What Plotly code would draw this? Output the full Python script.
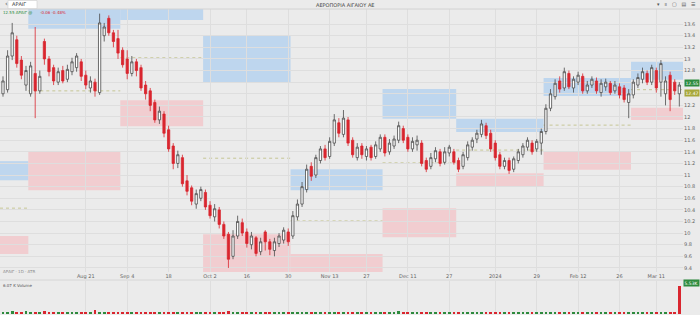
import plotly.graph_objects as go

# ---------------- data ----------------
idx = list(range(148))
opens = [12.40,12.47,13.05,13.33,12.98,12.55,12.40,12.75,12.45,13.30,13.00,12.85,12.60,12.80,12.65,
         12.78,12.85,12.95,12.72,12.50,12.60,12.42,13.40,13.70,13.45,13.35,13.15,13.00,12.75,12.95,
         12.85,12.55,12.45,12.25,11.95,12.05,11.78,11.50,11.20,11.30,10.90,10.78,10.50,10.60,10.70,
         10.48,10.28,10.40,10.15,9.98,9.60,9.95,10.18,10.02,9.80,9.92,9.68,10.02,9.85,9.70,
         9.82,9.88,10.02,9.95,10.28,10.50,10.75,11.15,11.00,11.25,11.45,11.32,11.55,11.90,11.70,
         11.95,11.60,11.30,11.50,11.32,11.48,11.32,11.45,11.65,11.40,11.50,11.60,11.80,11.65,11.45,
         11.52,11.55,11.25,11.15,11.28,11.40,11.22,11.38,11.40,11.25,11.15,11.30,11.48,11.62,11.70,
         11.85,11.72,11.55,11.35,11.15,11.25,11.10,11.25,11.35,11.48,11.55,11.45,11.55,11.75,12.15,
         12.35,12.62,12.50,12.75,12.50,12.60,12.70,12.45,12.55,12.62,12.42,12.52,12.58,12.45,12.52,
         12.50,12.25,12.38,12.55,12.65,12.75,12.60,12.80,12.60,12.40,12.72,12.60,12.40]
highs = [12.70,13.15,13.62,13.40,13.05,12.88,12.95,13.55,12.80,13.35,13.05,12.90,12.85,12.88,12.90,
         13.02,13.10,13.00,12.80,12.70,12.66,13.78,13.62,13.75,13.50,13.50,13.20,13.15,13.05,13.00,
         12.90,12.62,12.50,12.30,12.18,12.10,11.85,11.55,11.42,11.35,11.00,10.82,10.75,10.80,10.75,
         10.55,10.50,10.45,10.20,10.02,10.05,10.30,10.25,10.08,10.02,9.95,9.92,10.05,9.90,9.92,
         10.00,10.10,10.08,10.38,10.58,10.88,11.18,11.22,11.35,11.50,11.52,11.65,12.05,11.98,12.12,
         12.00,11.65,11.55,11.55,11.50,11.52,11.58,11.70,11.70,11.62,11.68,11.92,11.85,11.70,11.65,
         11.68,11.60,11.30,11.38,11.48,11.45,11.48,11.52,11.45,11.30,11.40,11.58,11.65,11.78,11.95,
         11.90,11.78,11.60,11.40,11.30,11.30,11.32,11.45,11.55,11.65,11.60,11.62,11.80,12.22,12.48,
         12.65,12.70,12.85,12.80,12.70,12.78,12.75,12.62,12.70,12.68,12.65,12.66,12.62,12.62,12.58,
         12.55,12.48,12.65,12.75,12.85,12.80,12.90,12.85,12.98,12.70,12.78,12.65,12.60]
lows = [12.35,12.42,12.98,12.85,12.65,12.45,12.35,11.98,12.40,12.90,12.70,12.55,12.55,12.58,12.60,
        12.72,12.78,12.62,12.48,12.42,12.35,12.38,13.30,13.40,13.20,13.00,12.85,12.65,12.70,12.70,
        12.45,12.30,12.10,11.90,11.88,11.65,11.40,11.10,11.12,10.80,10.65,10.48,10.42,10.55,10.40,
        10.25,10.20,10.08,9.90,9.40,9.55,9.90,9.95,9.75,9.72,9.60,9.62,9.70,9.62,9.60,
        9.76,9.82,9.78,9.90,10.22,10.45,10.70,10.90,10.95,11.20,11.25,11.28,11.50,11.65,11.65,
        11.50,11.30,11.25,11.28,11.25,11.25,11.28,11.40,11.32,11.35,11.45,11.55,11.55,11.40,11.40,
        11.42,11.15,11.05,11.10,11.22,11.15,11.18,11.32,11.18,11.05,11.10,11.25,11.42,11.55,11.65,
        11.62,11.40,11.25,11.10,11.10,11.02,11.05,11.20,11.30,11.42,11.35,11.40,11.35,11.70,12.10,
        12.30,12.42,12.45,12.48,12.42,12.55,12.40,12.40,12.50,12.40,12.35,12.45,12.38,12.40,12.32,
        12.25,11.98,12.32,12.50,12.58,12.55,12.55,12.42,12.35,12.20,12.10,12.38,12.18]
closes = [12.62,13.05,13.45,12.92,12.72,12.80,12.88,12.45,12.70,13.00,12.78,12.62,12.78,12.62,12.82,
          12.95,13.05,12.70,12.55,12.62,12.45,13.62,13.55,13.45,13.30,13.10,12.90,12.75,12.95,12.80,
          12.50,12.40,12.20,11.95,12.10,11.72,11.45,11.20,11.35,10.85,10.72,10.55,10.68,10.75,10.45,
          10.30,10.42,10.15,9.95,9.55,9.95,10.20,10.00,9.82,9.95,9.65,9.85,9.85,9.72,9.85,
          9.95,10.05,9.85,10.30,10.50,10.80,11.10,10.98,11.30,11.45,11.30,11.58,11.95,11.72,11.98,
          11.55,11.35,11.48,11.35,11.45,11.30,11.52,11.65,11.38,11.55,11.62,11.85,11.60,11.45,11.58,
          11.60,11.20,11.10,11.30,11.42,11.20,11.40,11.48,11.22,11.10,11.35,11.52,11.60,11.72,11.88,
          11.68,11.45,11.30,11.15,11.25,11.08,11.28,11.40,11.50,11.60,11.40,11.58,11.75,12.15,12.40,
          12.58,12.48,12.78,12.52,12.65,12.72,12.45,12.55,12.65,12.45,12.58,12.60,12.42,12.55,12.38,
          12.30,12.40,12.60,12.68,12.78,12.60,12.85,12.50,12.92,12.62,12.30,12.45,12.55]
volumes = [3,4,5,3,4,5,3,4,4,5,3,3,4,3,3,
           4,3,2,2,3,8,3,4,3,2,2,2,3,2,2,
           3,2,3,3,4,3,4,3,2,3,2,2,4,3,3,
           2,3,4,3,5,4,3,2,2,2,3,2,3,2,2,
           3,2,3,4,3,2,3,2,2,2,3,3,2,2,2,
           2,3,2,2,3,2,3,2,4,4,3,5,4,2,2,
           2,2,3,2,3,4,2,2,2,2,2,2,2,2,2,
           2,2,2,2,2,3,2,2,3,2,2,4,3,2,2,
           3,2,2,3,2,2,3,2,2,3,2,2,2,3,2,
           2,3,2,2,4,3,2,2,3,2,4,3,53]

# monthly support / resistance zones (x in bar index, y in price)
zone_x0 = [-0.65, 5.5, 25.5, 43.5, 62.5, 82.5, 98.5, 117.5, 136.5]
zone_x1 = [5.5, 25.5, 43.5, 62.5, 82.5, 98.5, 117.5, 136.5, 147.8]
blue_top = [11.24, 13.90, 13.90, 13.41, 11.10, 12.48, 11.97, 12.67, 12.95]
blue_bot = [10.91, 13.52, 13.67, 12.59, 10.74, 11.97, 11.74, 12.36, 12.64]
pink_top = [9.95, 11.40, 12.29, 9.98, 9.64, 10.43, 11.03, 11.40, 12.16]
pink_bot = [9.64, 10.74, 11.84, 9.20, 9.20, 9.93, 10.81, 11.09, 11.95]
pivot = [10.43, 12.45, 13.02, 11.29, 10.21, 11.21, 11.43, 11.86, 12.47]

tick_idx = [18, 27, 36, 45, 53, 62, 71, 79, 88, 97, 107, 116, 125, 134, 142]
tick_txt = ["Aug 21", "Sep 4", "18", "Oct 2", "16", "30", "Nov 13", "27", "Dec 11", "27",
            "2024", "29", "Feb 12", "26", "Mar 11"]
price_ticks = [9.4, 9.6, 9.8, 10, 10.2, 10.4, 10.6, 10.8, 11, 11.2, 11.4, 11.6, 11.8, 12,
               12.2, 12.4, 12.6, 12.8, 13, 13.2, 13.4, 13.6]
# labels hidden behind the last-price tags
price_labels = ["9.4", "9.6", "9.8", "10", "10.2", "10.4", "10.6", "10.8", "11", "11.2", "11.4",
                "11.6", "11.8", "12", "12.2", "", "", "12.8", "13", "13.2", "13.4", "13.6"]

ticker = "ΑΡΑΙΓ"
title = "ΑΕΡΟΠΟΡΙΑ ΑΙΓΑΙΟΥ ΑΕ"

# ---------------- figure ----------------
BG = "#ebebeb"
GRID = "#dedede"
RED = "#d9262f"
GREEN = "#2e8b3e"
FONT = "DejaVu Sans"

def py(px):
    return 1 - px / 315.0

fig = go.Figure()

fig.add_trace(go.Candlestick(
    x=idx, open=opens, high=highs, low=lows, close=closes,
    increasing=dict(fillcolor="#ffffff", line=dict(color="#4a4a4a", width=0.8)),
    decreasing=dict(fillcolor=RED, line=dict(color=RED, width=0.8)),
    whiskerwidth=0, showlegend=False, xaxis="x", yaxis="y"))

vol_colors = [GREEN if c >= o else RED for o, c in zip(opens, closes)]
vol_colors[-1] = RED
fig.add_trace(go.Bar(x=idx, y=volumes, marker=dict(color=vol_colors, line=dict(width=0)),
                     width=0.6, showlegend=False, xaxis="x2", yaxis="y2"))

shapes = []
for x0, x1, bt, bb, pt, pb, pv in zip(zone_x0, zone_x1, blue_top, blue_bot, pink_top, pink_bot, pivot):
    shapes.append(dict(type="rect", xref="x", yref="y", x0=x0, x1=x1, y0=bb, y1=bt,
                       fillcolor="rgba(160,200,240,0.6)", line=dict(width=0), layer="below"))
    shapes.append(dict(type="rect", xref="x", yref="y", x0=x0, x1=x1, y0=pb, y1=pt,
                       fillcolor="rgba(245,185,190,0.6)", line=dict(width=0), layer="below"))
    shapes.append(dict(type="line", xref="x", yref="y", x0=x0, x1=x1, y0=pv, y1=pv,
                       line=dict(color="rgba(165,165,70,0.75)", width=0.7, dash="dot"), layer="below"))

# header separator and ticker box
shapes.append(dict(type="line", xref="paper", yref="paper", x0=0, x1=1, y0=py(9), y1=py(9),
                   line=dict(color="#d2d2d2", width=1)))
shapes.append(dict(type="rect", xref="paper", yref="paper", x0=8/700, x1=37/700, y0=py(8.5), y1=py(0.5),
                   fillcolor="#ffffff", line=dict(color="#cfcfcf", width=0.6)))
# separator between price and volume panes
shapes.append(dict(type="line", xref="paper", yref="paper", x0=0, x1=1, y0=py(280), y1=py(280),
                   line=dict(color="#d6d6d6", width=1)))

ann = []
def txt(x, y, s, size=5, color="#444", xanchor="left", **kw):
    ann.append(dict(xref="paper", yref="paper", x=x/700, y=py(y), text=s, showarrow=False,
                    xanchor=xanchor, yanchor="middle", font=dict(size=size, color=color, family=FONT), **kw))

txt(2.5, 4.5, "‹", size=7, color="#555")
txt(10, 4.5, ticker, size=5, color="#333")
txt(345, 5, title, size=5, color="#444", xanchor="center")
txt(698, 4.5, "▾   ॥   ▢   ▤   ☰", size=5, color="#555", xanchor="right")
txt(1, 13, "12.55 " + ticker + " @", size=4, color=GREEN)
txt(38, 13, "-0.06 -0.48%", size=4, color=RED)
txt(1, 271, ticker + " · 1D · ATR", size=4, color="#8a8a8a")
txt(1, 285, "6.07 K Volume", size=4, color="#555")

# last price tags
ann.append(dict(xref="paper", yref="y", x=1.0, y=closes[-1] + 0.03, text="12.55", showarrow=False,
                xanchor="right", yanchor="middle", bgcolor=GREEN, borderpad=0.5,
                font=dict(size=4.5, color="#ffffff", family=FONT)))
ann.append(dict(xref="paper", yref="y", x=1.0, y=closes[-1] - 0.13, text="12.47", showarrow=False,
                xanchor="right", yanchor="middle", bgcolor="#a8a83a", borderpad=0.5,
                font=dict(size=4.5, color="#ffffff", family=FONT)))
ann.append(dict(xref="paper", yref="paper", x=1.0, y=py(283), text="5.53K", showarrow=False,
                xanchor="right", yanchor="middle", bgcolor=GREEN, borderpad=0.5,
                font=dict(size=4.5, color="#ffffff", family=FONT)))

fig.update_layout(
    width=700, height=315, margin=dict(l=0, r=0, t=0, b=0),
    paper_bgcolor=BG, plot_bgcolor=BG, showlegend=False, bargap=0,
    font=dict(family=FONT, size=5, color="#555"),
    shapes=shapes, annotations=ann,
    xaxis=dict(domain=[0, 683/700], range=[-0.65, 147.8], anchor="y",
               tickmode="array", tickvals=tick_idx, ticktext=tick_txt,
               tickfont=dict(size=5, color="#666"), ticks="", ticklen=0,
               showgrid=True, gridcolor=GRID, gridwidth=1, zeroline=False, showline=False,
               rangeslider=dict(visible=False)),
    yaxis=dict(domain=[py(272), py(9)], range=[9.33, 13.86], side="right", anchor="x",
               tickmode="array", tickvals=price_ticks, ticktext=price_labels,
               tickfont=dict(size=5, color="#666"), ticks="", showgrid=True, gridcolor=GRID,
               gridwidth=1, zeroline=False, showline=False),
    xaxis2=dict(domain=[0, 683/700], range=[-0.65, 147.8], anchor="y2", matches="x",
                showticklabels=False, showgrid=True, gridcolor=GRID, zeroline=False,
                tickmode="array", tickvals=tick_idx, ticks=""),
    yaxis2=dict(domain=[py(314), py(281)], range=[0, 62], side="right", anchor="x2",
                showticklabels=False, showgrid=False, zeroline=False, ticks=""),
)

fig.write_html("out.html", config={"displayModeBar": False})
